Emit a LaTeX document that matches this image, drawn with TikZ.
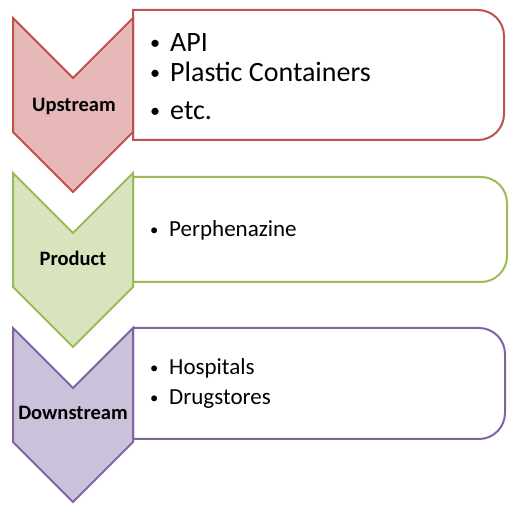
\documentclass[tikz,border=0pt]{standalone}
\usepackage{fontspec}
\setmainfont{Carlito}
\definecolor{redfill}{RGB}{230,185,184}
\definecolor{redline}{RGB}{192,80,77}
\definecolor{greenfill}{RGB}{215,228,189}
\definecolor{greenline}{RGB}{155,187,89}
\definecolor{purplefill}{RGB}{204,193,218}
\definecolor{purpleline}{RGB}{128,100,162}
\newcommand{\bitem}[2]{\makebox[#1][l]{\raisebox{0.08em}{\scalebox{0.72}{\textbullet}}}#2}
\begin{document}
\begin{tikzpicture}[x=1pt,y=-1pt,
  boxline/.style={line width=2pt, fill=white},
  chev/.style={line width=2pt, line join=miter},
  lab/.style={font=\fontsize{20.5}{24}\selectfont\bfseries, anchor=base, inner sep=0pt},
  bigtxt/.style={font=\fontsize{28}{32}\selectfont, anchor=base west, inner sep=0pt},
  smalltxt/.style={font=\fontsize{23}{27}\selectfont, anchor=base west, inner sep=0pt}]
\useasboundingbox (0,0) rectangle (523,505);
% ---- Upstream ----
\draw[boxline, draw=redline] (133,140) -- (133,10) [rounded corners=26] -- (504,10) -- (504,140) [sharp corners] -- cycle;
\draw[chev, draw=redline, fill=redfill] (13,18) -- (73,78) -- (133,18) -- (133,132) -- (73,192) -- (13,132) -- cycle;
\node[lab] (up) at (74,112) {Upstream};
\node[bigtxt] (api) at (150,52) {\bitem{20pt}{API}};
\node[bigtxt] (plastic) at (150,82) {\bitem{20pt}{Plastic Containers}};
\node[bigtxt] (etc) at (150,120) {\bitem{20pt}{etc.}};
% ---- Product ----
\draw[boxline, draw=greenline] (133,282) -- (133,177) [rounded corners=26] -- (507,177) -- (507,282) [sharp corners] -- cycle;
\draw[chev, draw=greenline, fill=greenfill] (13,173) -- (73,233) -- (133,173) -- (133,287) -- (73,347) -- (13,287) -- cycle;
\node[lab] (prod) at (73,266) {Product};
\node[smalltxt] (perph) at (150,237) {\bitem{19pt}{Perphenazine}};
% ---- Downstream ----
\draw[boxline, draw=purpleline] (133,439) -- (133,328) [rounded corners=26] -- (505,328) -- (505,439) [sharp corners] -- cycle;
\draw[chev, draw=purpleline, fill=purplefill] (13,328) -- (73,388) -- (133,328) -- (133,442) -- (73,502) -- (13,442) -- cycle;
\node[lab] (down) at (73,420) {Downstream};
\node[smalltxt] (hosp) at (150,375) {\bitem{19pt}{Hospitals}};
\node[smalltxt] (drug) at (150,405) {\bitem{19pt}{Drugstores}};
\end{tikzpicture}
\end{document}
